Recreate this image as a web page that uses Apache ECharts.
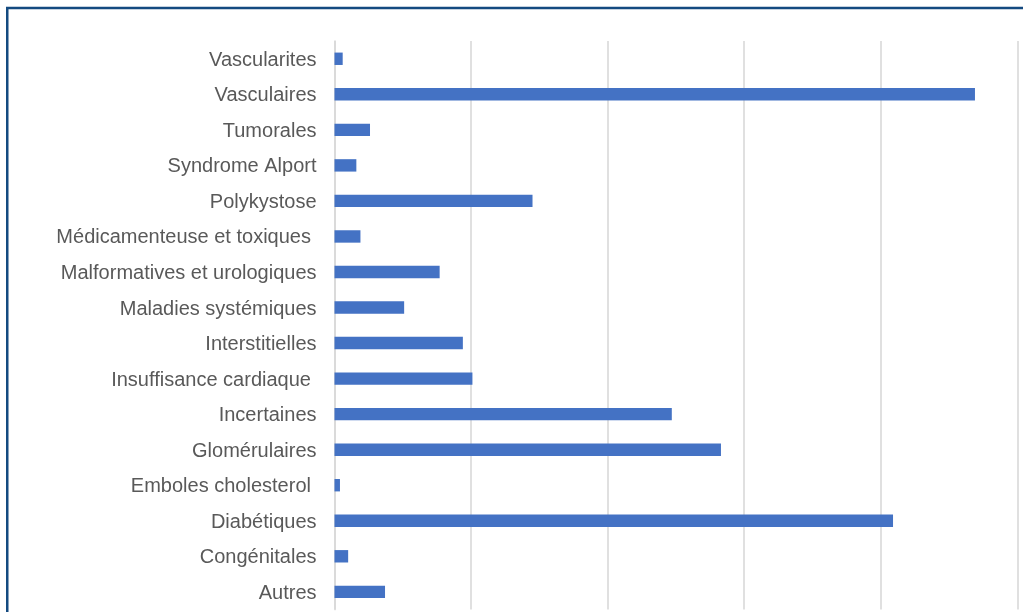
<!DOCTYPE html>
<html>
<head>
<meta charset="utf-8">
<script src="https://cdn.jsdelivr.net/npm/echarts@6/dist/echarts.min.js"></script>
<style>
html,body{margin:0;padding:0;background:#fff;}
#chart{width:1023px;height:612px;}
</style>
</head>
<body>
<div id="chart"></div>
<script>
// Categories listed top to bottom
const categories = [
  "Vascularites",
  "Vasculaires",
  "Tumorales",
  "Syndrome Alport",
  "Polykystose",
  "Médicamenteuse et toxiques ",
  "Malformatives et urologiques",
  "Maladies systémiques",
  "Interstitielles",
  "Insuffisance cardiaque ",
  "Incertaines",
  "Glomérulaires",
  "Emboles cholesterol ",
  "Diabétiques",
  "Congénitales",
  "Autres"
];
// Percentages
const values = [0.3, 23.45, 1.3, 0.8, 7.25, 0.95, 3.85, 2.55, 4.7, 5.05, 12.35, 14.15, 0.2, 20.45, 0.5, 1.85];
const xTicks = {min: 0, max: 25, interval: 5};

const chart = echarts.init(document.getElementById('chart'), null, {renderer: 'canvas'});
chart.setOption({
  animation: false,
  backgroundColor: '#ffffff',
  graphic: [{
    type: 'rect',
    shape: {x: 7.25, y: 8, width: 2000, height: 2000},
    style: {fill: 'none', stroke: '#144a80', lineWidth: 2.5},
    z: 100
  }],
  grid: {left: 334.5, top: 41, right: 5.7, bottom: 2.4, containLabel: false},
  xAxis: {
    type: 'value',
    min: xTicks.min,
    max: xTicks.max,
    interval: xTicks.interval,
    axisLabel: {show: false},
    axisLine: {show: false},
    axisTick: {show: false},
    splitLine: {show: true, lineStyle: {color: '#d9d9d9', width: 1.6}}
  },
  yAxis: {
    type: 'category',
    data: categories,
    inverse: true,
    axisLine: {show: true, lineStyle: {color: '#d9d9d9', width: 1.6}},
    axisTick: {show: false},
    axisLabel: {
      margin: 18,
      formatter: function (v) { return '{t|' + v + '}'; },
      rich: {
        t: {
          color: '#595959',
          fontFamily: 'Liberation Sans, Arial, Helvetica, sans-serif',
          fontSize: 20,
          padding: [3, 0, 0, 0]
        }
      }
    }
  },
  series: [{
    type: 'bar',
    data: values,
    barWidth: 12.4,
    itemStyle: {color: '#4472c4'}
  }]
});
</script>
</body>
</html>
